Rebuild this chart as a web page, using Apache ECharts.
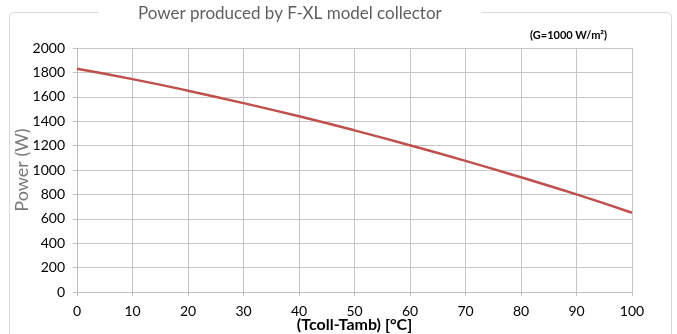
<!DOCTYPE html>
<html>
<head>
<meta charset="utf-8">
<script src="https://cdn.jsdelivr.net/npm/echarts@6/dist/echarts.min.js"></script>
<style>
  html, body { margin: 0; padding: 0; background: #fff; }
  #chart { width: 677px; height: 334px; }
</style>
</head>
<body>
<div id="chart"></div>
<script>
// temperature difference (Tcoll-Tamb) in °C
const deltaT = [0, 10, 20, 30, 40, 50, 60, 70, 80, 90, 100];
// power output (W)
const power = [1830, 1745, 1650, 1548, 1440, 1325, 1203, 1075, 940, 800, 650];

const chart = echarts.init(document.getElementById('chart'));

const option = {
    animation: false,
    textStyle: { fontFamily: 'Lato' },
    graphic: [
        {
            type: 'rect',
            shape: { x: 9.5, y: 12.5, width: 662, height: 340, r: 4 },
            style: { fill: 'none', stroke: '#d9d9d9', lineWidth: 1 }
        },
        {
            type: 'text',
            left: 530,
            top: 30,
            style: {
                text: '(G=1000 W/m²)',
                font: 'bold 11px Lato',
                fill: '#000'
            }
        }
    ],
    title: {
        text: 'Power produced by F-XL model collector',
        left: 98,
        top: 3,
        backgroundColor: '#fff',
        padding: [2, 40, 2, 40],
        textStyle: {
            color: '#5f5f5f',
            fontSize: 17,
            fontWeight: 'normal',
            fontFamily: 'Lato'
        }
    },
    grid: { left: 77, right: 45, top: 48, bottom: 42, outerBoundsMode: 'none' },
    xAxis: {
        type: 'value',
        min: 0,
        max: 100,
        interval: 10,
        name: '(Tcoll-Tamb) [°C]',
        nameLocation: 'middle',
        nameGap: 25,
        nameMoveOverlap: false,
        nameTextStyle: { color: '#000', fontSize: 16, fontWeight: 'bold' },
        axisLine: { show: true, lineStyle: { color: '#bfbfbf' } },
        axisTick: { show: true, length: 4, lineStyle: { color: '#bfbfbf' } },
        axisLabel: { color: '#000', fontSize: 14, margin: 12 },
        splitLine: { show: true, lineStyle: { color: '#c6c6c6' } }
    },
    yAxis: {
        type: 'value',
        min: 0,
        max: 2000,
        interval: 200,
        name: 'Power (W)',
        nameLocation: 'middle',
        nameGap: 46,
        nameMoveOverlap: false,
        nameTextStyle: { color: '#7a7a7a', fontSize: 18 },
        axisLine: { show: true, lineStyle: { color: '#bfbfbf' } },
        axisTick: { show: true, length: 4, lineStyle: { color: '#bfbfbf' } },
        axisLabel: { color: '#000', fontSize: 14, margin: 12, formatter: (v) => String(v) },
        splitLine: { show: true, lineStyle: { color: '#c6c6c6' } }
    },
    series: [
        {
            type: 'line',
            data: deltaT.map((t, i) => [t, power[i]]),
            smooth: true,
            symbol: 'none',
            lineStyle: { color: '#c0504d', width: 2.5 }
        }
    ]
};

chart.setOption(option);
</script>
</body>
</html>
